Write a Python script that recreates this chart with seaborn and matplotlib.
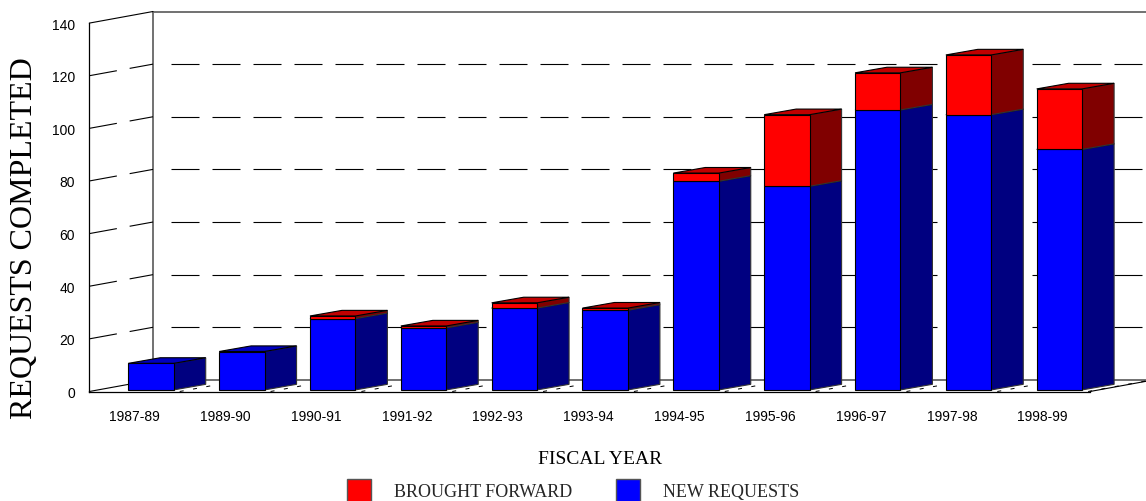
import pandas as pd
import numpy as np
import matplotlib
matplotlib.use("Agg")
import matplotlib.pyplot as plt
from matplotlib.patches import Patch
import seaborn as sns

# du lieu doc tu hinh
fiscal_years = ["1987-89", "1989-90", "1990-91", "1991-92", "1992-93", "1993-94",
                "1994-95", "1995-96", "1996-97", "1997-98", "1998-99"]
new_requests = [10.1, 14.6, 27.1, 23.6, 31.1, 30.3, 79.3, 77.4, 106.4, 104.6, 91.4]
brought_forward = [0, 0, 1, 0.7, 2, 0.8, 3.1, 27.2, 14.1, 22.7, 23.0]
y_ticks = [0, 20, 40, 60, 80, 100, 120, 140]

# --- hinh hoc gia 3D, tinh theo pixel cua hinh ---
W, H = 1146, 502
left_px, right_px, bottom_px, top_px = 89.3, 1090, 392.5, 24.1
step_px = 90.84
first_bar_px = 151
px_x = 1 / step_px
px_y = 140 / (bottom_px - top_px)
wall_dx, wall_dy = 63.7 * px_x, 11.6 * px_y
bar_dx, bar_dy = 32 * px_x, 5.6 * px_y
tick_shift = 16.7 * px_x
base = 0.6

sns.set_style("white")
plt.rcParams["font.family"] = ["Liberation Sans", "DejaVu Sans"]

fig = plt.figure(figsize=(W / 100, H / 100), dpi=100)
ax = fig.add_axes([left_px / W, 1 - bottom_px / H, (right_px - left_px) / W, (bottom_px - top_px) / H])

df = pd.DataFrame({"year": fiscal_years, "new": new_requests, "old": brought_forward})
df["top_new"] = df["new"] + base

sns.barplot(data=df, x="year", y="new", bottom=base, color="#0000ff", saturation=1, width=0.5,
            edgecolor="black", linewidth=0.8, zorder=4, ax=ax)
has_old = df["old"] > 0
sns.barplot(x=np.arange(len(df))[has_old], y=df.loc[has_old, "old"].values, native_scale=True,
            bottom=df.loc[has_old, "top_new"].values, color="#ff0000", saturation=1, width=0.5,
            edgecolor="black", linewidth=0.8, zorder=4, ax=ax)

xmin = (left_px - first_bar_px) * px_x
xmax = (right_px - first_bar_px) * px_x
ax.set_xlim(xmin, xmax)
ax.set_ylim(0, 140)

# --- tuong va san ---
gray = "#666666"
ax.plot([xmin + wall_dx] * 2, [wall_dy, 140 + wall_dy], color=gray, lw=1.3, clip_on=False, zorder=1)
ax.plot([xmin + wall_dx, xmax + 2], [140 + wall_dy] * 2, color=gray, lw=1.3, clip_on=False, zorder=1)
ax.plot([xmin + wall_dx, xmax + 2], [wall_dy] * 2, color=gray, lw=1.3, clip_on=False, zorder=1)
ax.plot([xmin, xmin + wall_dx], [140, 140 + wall_dy], color="black", lw=0.8, clip_on=False, zorder=1)
ax.plot([xmin, xmin + wall_dx], [0, wall_dy], color="black", lw=0.8, clip_on=False, zorder=1)
ax.plot([xmax, xmax + wall_dx], [0, wall_dy], color="black", lw=0.8, clip_on=False, zorder=1)

# --- luoi net dut ---
for v in y_ticks[1:-1]:
    ax.plot([xmin, xmin + wall_dx], [v, v + wall_dy], color="black", lw=0.8, dashes=(25.2, 11.7),
            clip_on=False, zorder=1)
    ax.plot([xmin + wall_dx + 18 * px_x, xmax + 2], [v + wall_dy] * 2, color="black", lw=0.8,
            dashes=(25.2, 11.7), clip_on=False, zorder=1)

# net dut tren san giua cac cot
for i in range(len(fiscal_years)):
    x0 = i - tick_shift + 0.5
    ax.plot([x0, x0 + wall_dx], [0, wall_dy], color="black", lw=0.72, dashes=(4, 9.5),
            clip_on=False, zorder=1)

# --- mat ben va mat tren cua cot ---
def ve_khoi(i, y0, y1, side, top):
    x_r = i + 0.25
    x_l = i - 0.25
    ax.fill([x_r, x_r + bar_dx, x_r + bar_dx, x_r], [y0, y0 + bar_dy, y1 + bar_dy, y1],
            facecolor=side, edgecolor="#333333", lw=0.8, clip_on=False, zorder=3)
    ax.fill([x_l, x_l + bar_dx, x_r + bar_dx, x_r], [y1, y1 + bar_dy, y1 + bar_dy, y1],
            facecolor=top, edgecolor="black", lw=0.8, clip_on=False, zorder=3)

for i, (n, o) in enumerate(zip(new_requests, brought_forward)):
    ve_khoi(i, base, base + n, "#000080", "#0000c0")
    if o > 0:
        ve_khoi(i, base + n, base + n + o, "#800000", "#c00000")

# --- truc ---
sns.despine(ax=ax, top=True, right=True)
for s in ["left", "bottom"]:
    ax.spines[s].set_color("black")
    ax.spines[s].set_linewidth(0.9)
    ax.spines[s].set_zorder(2)
ax.set_xticks(np.arange(len(fiscal_years)) - tick_shift)
ax.set_xticklabels(fiscal_years)
ax.set_yticks(y_ticks)
ax.tick_params(axis="x", length=7.2, width=0.8, color="black", pad=5.5, labelsize=10, labelcolor="black")
ax.tick_params(axis="y", length=7.2, width=0.8, color="black", pad=3, labelsize=10, labelcolor="black")

ax.set_ylabel("REQUESTS COMPLETED", fontsize=23, family="Liberation Serif", va="center", color="black")
ax.yaxis.set_label_coords((25 - left_px) / (right_px - left_px), (bottom_px - 238.5) / (bottom_px - top_px))
ax.set_xlabel("FISCAL YEAR", fontsize=14, family="Liberation Serif", va="center", color="black")
ax.xaxis.set_label_coords((600.5 - left_px) / (right_px - left_px), (bottom_px - 460) / (bottom_px - top_px))

handles = [Patch(facecolor="#ff0000", edgecolor="#555555", label="BROUGHT FORWARD"),
           Patch(facecolor="#0000ff", edgecolor="#555555", label="NEW REQUESTS")]
fig.legend(handles=handles, loc="lower left", bbox_to_anchor=(347 / W, -1 / H), ncol=2, frameon=False,
           borderpad=0, borderaxespad=0, handlelength=1.35, handleheight=1.59, handletextpad=1.27,
           columnspacing=2.38, prop={"family": "Liberation Serif", "size": 13})

fig.savefig("out.png", dpi=100)
plt.close()
